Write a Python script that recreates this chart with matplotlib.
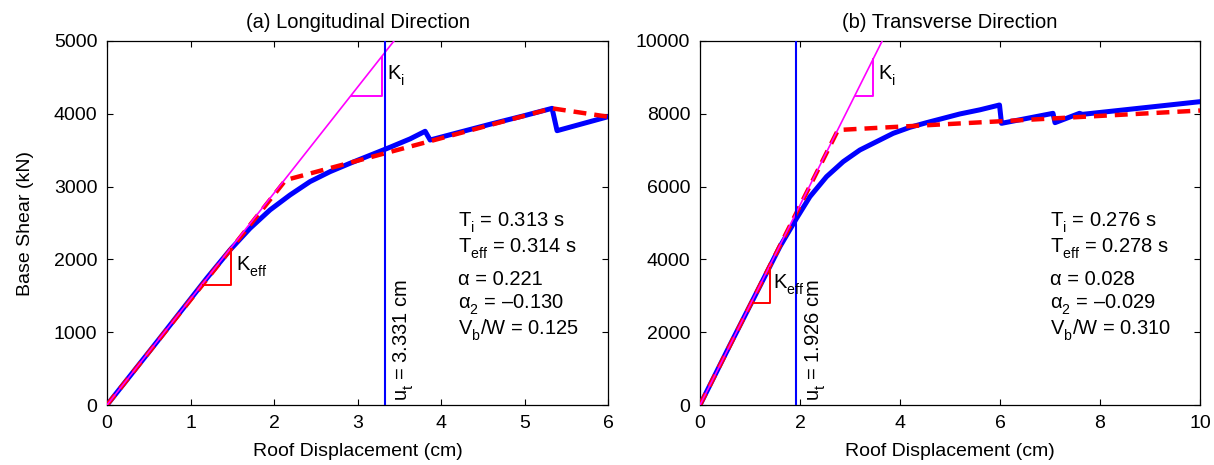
import matplotlib
matplotlib.use("Agg")
import matplotlib.pyplot as plt
import numpy as np

plt.rcParams['font.family'] = ['Liberation Sans', 'DejaVu Sans']
plt.rcParams['mathtext.fontset'] = 'custom'
plt.rcParams['mathtext.rm'] = 'Liberation Sans'
plt.rcParams['mathtext.it'] = 'Liberation Sans:italic'
plt.rcParams['font.size'] = 14
try:
    import matplotlib._mathtext as _mt
    _mt.FontConstantsBase.sub1 = 0.6
    _mt.FontConstantsBase.sub2 = 0.8
except Exception:
    pass

# ---------------- data: (a) Longitudinal ----------------
a_title = "(a) Longitudinal Direction"
a_pushover_x = [0, 0.6, 1.194, 1.473, 1.713, 1.952, 2.192, 2.431, 2.671, 2.91, 3.15, 3.389,
                3.629, 3.81, 3.87, 4.2, 4.6, 5.0, 5.33, 5.39, 6.0]
a_pushover_y = [0, 870, 1740, 2129, 2427, 2679, 2885, 3068, 3205, 3320, 3430, 3540,
                3655, 3760, 3640, 3740, 3860, 3975, 4075, 3768, 3960]
a_bilin_x = [0, 2.14, 5.33, 6.0]
a_bilin_y = [0, 3090, 4075, 3960]
a_Ki = 1455.0
a_Keff = 1446.0
a_ut = 3.331
a_ki_tri = (2.93, 3.29, 4250)
a_keff_tri = (1.15, 1.48, 1650)
a_info = [r"T$_{\mathrm{i}}$ = 0.313 s", r"T$_{\mathrm{eff}}$ = 0.314 s", "α = 0.221",
          "α$_{\\mathrm{2}}$ = \u20130.130", r"V$_{\mathrm{b}}$/W = 0.125"]
a_ut_label = r"u$_{\mathrm{t}}$ = 3.331 cm"

# ---------------- data: (b) Transverse ----------------
b_title = "(b) Transverse Direction"
b_pushover_x = [0, 0.6, 1.199, 1.598, 1.931, 2.198, 2.531, 2.864, 3.197, 3.53, 3.863, 4.196,
                4.53, 4.862, 5.195, 5.6, 5.99, 6.03, 7.06, 7.10, 7.59, 7.65, 10.0]
b_pushover_y = [0, 1650, 3270, 4350, 5128, 5723, 6273, 6685, 7005, 7234, 7463, 7628,
                7756, 7875, 7995, 8110, 8242, 7738, 8013, 7756, 8013, 7985, 8333]
b_bilin_x = [0, 2.76, 10.0]
b_bilin_y = [0, 7555, 8090]
b_Ki = 2745.0
b_Keff = 2705.0
b_ut = 1.926
b_ki_tri = (3.12, 3.46, 8500)
b_keff_tri = (1.06, 1.39, 2800)
b_info = [r"T$_{\mathrm{i}}$ = 0.276 s", r"T$_{\mathrm{eff}}$ = 0.278 s", "α = 0.028",
          "α$_{\\mathrm{2}}$ = \u20130.029", r"V$_{\mathrm{b}}$/W = 0.310"]
b_ut_label = r"u$_{\mathrm{t}}$ = 1.926 cm"

xlabel = "Roof Displacement (cm)"
ylabel = "Base Shear (kN)"

fig = plt.figure(figsize=(12.14, 4.65), dpi=100)
axA = fig.add_axes([107/1214, 60/465, 501/1214, 364/465])
axB = fig.add_axes([700/1214, 60/465, 500/1214, 364/465])

FS_TXT = 14.5


def draw(ax, title, px, py, bx, by, Ki, Keff, ut, kitri, kefftri, info, utlab,
         xmax, ymax, xticks, yticks, info_x, info_y, ut_pos, ki_lab, keff_lab):
    ax.plot(px, py, color=(0, 0, 1), lw=3.6, solid_joinstyle='round', zorder=3)
    ax.plot(bx, by, color=(1, 0, 0), lw=3.2, dashes=(2.9, 1.8), zorder=4)
    ax.plot([0, xmax], [0, Ki * xmax], color=(1, 0, 1), lw=1.2, zorder=5)
    ax.axvline(ut, color=(0, 0, 1), lw=1.5, zorder=6)
    x0, x1, y0 = kitri
    ax.plot([x0, x1, x1], [y0, y0, Ki * x1], color=(1, 0, 1), lw=1.4, zorder=5)
    x0, x1, y0 = kefftri
    ax.plot([x0, x1, x1], [y0, y0, Keff * x1], color=(1, 0, 0), lw=1.4, zorder=5)
    ax.text(ki_lab[0], ki_lab[1], r"K$_{\mathrm{i}}$", fontsize=FS_TXT, va='baseline', zorder=7)
    ax.text(keff_lab[0], keff_lab[1], r"K$_{\mathrm{eff}}$", fontsize=FS_TXT, va='baseline', zorder=7)
    for s, y in zip(info, info_y):
        ax.text(info_x, y, s, fontsize=FS_TXT, va='baseline', ha='left')
    ax.text(ut_pos[0], ut_pos[1], utlab, rotation=90, fontsize=FS_TXT, ha='left', va='bottom')
    ax.set_xlim(0, xmax)
    ax.set_ylim(0, ymax)
    ax.set_xticks(xticks)
    ax.set_yticks(yticks)
    ax.tick_params(direction='in', top=True, right=True, length=4, width=0.8,
                   labelsize=14, pad=7)
    for sp in ax.spines.values():
        sp.set_linewidth(0.9)
    ax.set_title(title, fontsize=14.5, pad=9)
    ax.set_xlabel(xlabel, fontsize=14, labelpad=8)


draw(axA, a_title, a_pushover_x, a_pushover_y, a_bilin_x, a_bilin_y, a_Ki, a_Keff, a_ut,
     a_ki_tri, a_keff_tri, a_info, a_ut_label, 6, 5000, range(0, 7), range(0, 5001, 1000),
     4.20, [2459, 2092, 1648, 1332, 975], (3.40, 60), (3.35, 4474), (1.545, 1845))
draw(axB, b_title, b_pushover_x, b_pushover_y, b_bilin_x, b_bilin_y, b_Ki, b_Keff, b_ut,
     b_ki_tri, b_keff_tri, b_info, b_ut_label, 10, 10000, range(0, 11, 2),
     range(0, 10001, 2000), 6.99, [4918, 4184, 3297, 2665, 1951], (2.06, 120),
     (3.56, 8948), (1.465, 3206))
axA.set_ylabel(ylabel, fontsize=14, labelpad=14)

fig.savefig("out.png", dpi=100)
